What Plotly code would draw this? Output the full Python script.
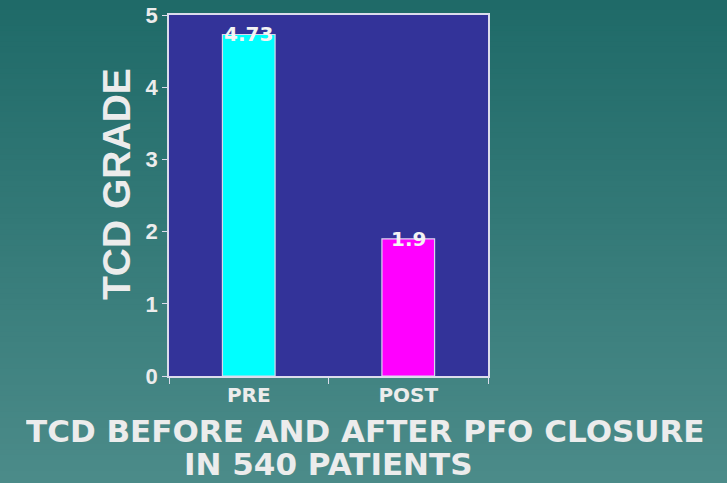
import plotly.graph_objects as go

# Mean TCD grade before and after PFO closure
categories = ["PRE", "POST"]
tcd_grade = [4.73, 1.9]
bar_colors = ["#00ffff", "#ff00ff"]
y_ticks = [0, 1, 2, 3, 4, 5]

SANS = "Liberation Sans, Arial, sans-serif"
WIDE = "DejaVu Sans, Verdana, sans-serif"
TEXT = "#ececec"

W, H = 727, 483
ML, MR, MT, MB = 169, 239, 15, 107
plot_w = W - ML - MR
plot_h = H - MT - MB


def px_to_paper(px, py):
    """Map page pixel coordinates to paper coordinates of the plot area."""
    return (px - ML) / plot_w, (H - MB - py) / plot_h


fig = go.Figure()
fig.add_trace(go.Bar(
    x=categories,
    y=tcd_grade,
    marker=dict(color=bar_colors, line=dict(color="#d8d8ec", width=1.2)),
    width=0.33,
    hoverinfo="skip",
))

# Value labels sit centred on the top edge of each bar
for cat, val in zip(categories, tcd_grade):
    fig.add_annotation(
        x=cat, y=val, text=f"<b>{val:g}</b>", showarrow=False,
        yanchor="middle", xanchor="center",
        font=dict(family=WIDE, size=20, color="#f4f4f4"),
    )

# Vertical teal gradient across the whole page, built from thin strips
top_rgb = (0x1f, 0x6a, 0x68)
bot_rgb = (0x4b, 0x8b, 0x89)
n_strips = 90
page_top = px_to_paper(0, 0)[1]
page_bot = px_to_paper(0, H)[1]
page_left = px_to_paper(0, 0)[0]
page_right = px_to_paper(W, 0)[0]
shapes = []
for i in range(n_strips):
    t = i / (n_strips - 1)
    r = round(top_rgb[0] + (bot_rgb[0] - top_rgb[0]) * t)
    g = round(top_rgb[1] + (bot_rgb[1] - top_rgb[1]) * t)
    b = round(top_rgb[2] + (bot_rgb[2] - top_rgb[2]) * t)
    y1 = page_top + (page_bot - page_top) * i / n_strips
    y0 = page_top + (page_bot - page_top) * (i + 1) / n_strips
    shapes.append(dict(
        type="rect", xref="paper", yref="paper",
        x0=page_left - 0.05, x1=page_right + 0.05,
        y0=y0 - 0.004, y1=y1 + 0.004,
        fillcolor=f"rgb({r},{g},{b})", line=dict(width=0), layer="below",
    ))
# Plot-area fill on top of the gradient
shapes.append(dict(
    type="rect", xref="x domain", yref="y domain",
    x0=0, x1=1, y0=0, y1=1,
    fillcolor="#333399", line=dict(width=0), layer="below",
))

fig.update_layout(
    width=W, height=H,
    margin=dict(l=ML, r=MR, t=MT, b=MB, autoexpand=False),
    paper_bgcolor="#357a78",
    plot_bgcolor="rgba(0,0,0,0)",
    shapes=shapes,
    showlegend=False,
    font=dict(family=SANS, color=TEXT),
)

fig.update_xaxes(
    type="category", automargin=False,
    tickvals=categories, ticktext=[f"<b>{c}</b>" for c in categories],
    showline=True, linecolor="#dcdcec", linewidth=1.5, mirror=True,
    ticks="outside", tickson="boundaries", ticklen=6, tickcolor="#dcdcec",
    tickfont=dict(family=WIDE, size=20, color=TEXT),
    showgrid=False, zeroline=False,
)
fig.update_yaxes(
    range=[0, 5], automargin=False, tickvals=y_ticks,
    ticktext=[f"<b>{v}</b>" for v in y_ticks],
    showline=True, linecolor="#dcdcec", linewidth=1.5, mirror=True,
    ticks="outside", ticklen=5, tickcolor="#dcdcec",
    tickfont=dict(family=SANS, size=22, color=TEXT),
    showgrid=False, zeroline=False,
)

# Axis title drawn as a rotated annotation
tx, ty = px_to_paper(116, 184)
fig.add_annotation(
    xref="paper", yref="paper", x=tx, y=ty,
    text="<b>TCD GRADE</b>", textangle=-90, showarrow=False,
    xanchor="center", yanchor="middle",
    font=dict(family=SANS, size=39, color=TEXT),
)

# Chart caption below the plot, two tightly stacked lines
for text, (cx, cy) in [("TCD BEFORE AND AFTER PFO CLOSURE", (365, 431)),
                       ("IN 540 PATIENTS", (328, 464))]:
    ax, ay = px_to_paper(cx, cy)
    fig.add_annotation(
        xref="paper", yref="paper", x=ax, y=ay,
        text=f"<b>{text}</b>", showarrow=False,
        xanchor="center", yanchor="middle", height=32,
        font=dict(family=WIDE, size=31, color=TEXT),
    )

fig.write_html("out.html")
